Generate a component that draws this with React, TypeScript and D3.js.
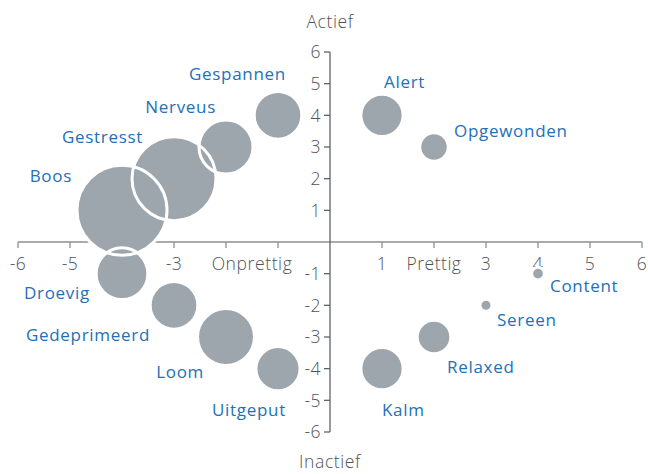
import React from 'react';
import * as d3 from 'd3';

// emotions on the valence (x) / arousal (y) plane
const moods = ['Boos', 'Gestresst', 'Nerveus', 'Gespannen', 'Alert', 'Opgewonden', 'Content', 'Sereen', 'Relaxed', 'Kalm', 'Uitgeput', 'Loom', 'Gedeprimeerd', 'Droevig'];
const valence = [-4, -3, -2, -1, 1, 2, 4, 3, 2, 1, -1, -2, -3, -4];
const arousal = [1, 2, 3, 4, 4, 3, -1, -2, -3, -4, -4, -3, -2, -1];
const weight = [100, 87, 36, 28, 22, 10, 2, 1.8, 14, 22, 24, 40, 28, 33];

const tickValues = [-6, -5, -4, -3, -2, -1, 1, 2, 3, 4, 5, 6];
const xTickLabels: Record<number, string> = { '-2': '', '-1': '', 2: 'Prettig' };
const xExtraLabel = { value: -1.5, text: 'Onprettig' };
const yTopLabel = 'Actief';
const yBottomLabel = 'Inactief';

// label placement relative to bubble centre: dx, dy, anchor
const labelPos: Record<string, [number, number, string]> = {
  Boos: [-50, -28, 'end'],
  Gestresst: [-31, -36, 'end'],
  Nerveus: [-10, -34, 'end'],
  Gespannen: [8, -35, 'end'],
  Alert: [2, -27, 'start'],
  Opgewonden: [20, -10, 'start'],
  Content: [12, 18, 'start'],
  Sereen: [11, 21, 'start'],
  Relaxed: [13, 36, 'start'],
  Kalm: [0, 47, 'start'],
  Uitgeput: [8, 47, 'end'],
  Loom: [-22, 41, 'end'],
  Gedeprimeerd: [-24, 36, 'end'],
  Droevig: [-32, 25, 'end'],
};

const W = 648, H = 474;
const font = '"Open Sans", sans-serif';
const tickColor = '#4f5459';
const bubbleFill = '#9ea6ad';
const labelColor = '#2370b8';
const tickSize = 17.5;

export default function App() {
  const x = d3.scaleLinear().domain([-6, 6]).range([18, 642]);
  const y = d3.scaleLinear().domain([-6, 6]).range([432, 52]);
  const r = d3.scaleSqrt().domain([0, 100]).range([0, 45]);
  const x0 = x(0), y0 = y(0);

  const pts = moods.map((m, i) => ({ name: m, cx: x(valence[i]), cy: y(arousal[i]), rad: r(weight[i]) }));

  return (
    <div style={{ position: 'absolute', left: 0, top: 0 }}>
      <svg width={W} height={H} style={{ display: 'block', fontFamily: font }}>
        {/* x axis */}
        <line x1={x(-6)} x2={x(6)} y1={y0} y2={y0} stroke="#8a9197" strokeWidth={1.3} />
        {tickValues.map((t) => (
          <g key={'xt' + t}>
            <line x1={x(t)} x2={x(t)} y1={y0} y2={y0 + 6} stroke="#8a9197" strokeWidth={1.3} />
            <text x={x(t)} y={y0 + 28} textAnchor="middle" fontSize={tickSize} fontWeight={300} fill={tickColor} letterSpacing={0.5}>
              {t in xTickLabels ? xTickLabels[t] : String(t)}
            </text>
          </g>
        ))}
        <text x={x(xExtraLabel.value)} y={y0 + 28} textAnchor="middle" fontSize={tickSize} fontWeight={300} fill={tickColor} letterSpacing={0.6}>
          {xExtraLabel.text}
        </text>

        {/* y axis */}
        <line x1={x0} x2={x0} y1={y(6)} y2={y(-6)} stroke="#5d646a" strokeWidth={1.3} />
        {tickValues.map((t) => (
          <g key={'yt' + t}>
            <line x1={x0 - 6} x2={x0} y1={y(t)} y2={y(t)} stroke="#5d646a" strokeWidth={1.3} />
            <text x={x0 - 9} y={y(t)} dy="0.36em" textAnchor="end" fontSize={tickSize} fontWeight={300} fill={tickColor} letterSpacing={0.5}>
              {t}
            </text>
          </g>
        ))}
        <text x={x0} y={28} textAnchor="middle" fontSize={tickSize} fontWeight={300} fill={tickColor} letterSpacing={0.6}>{yTopLabel}</text>
        <text x={x0} y={468} textAnchor="middle" fontSize={tickSize} fontWeight={300} fill={tickColor} letterSpacing={0.6}>{yBottomLabel}</text>

        {/* bubbles: fills first, then white outlines on top */}
        {pts.map((p) => (
          <circle key={'f' + p.name} cx={p.cx} cy={p.cy} r={p.rad} fill={bubbleFill} />
        ))}
        {pts.map((p) => (
          <circle key={'s' + p.name} cx={p.cx} cy={p.cy} r={p.rad} fill="none" stroke="#fff" strokeWidth={3} />
        ))}

        {/* labels */}
        {pts.map((p) => {
          const [dx, dy, anchor] = labelPos[p.name];
          return (
            <text key={'l' + p.name} x={p.cx + dx} y={p.cy + dy} textAnchor={anchor as any} fontSize={17} fill={labelColor} letterSpacing={0.7}>
              {p.name}
            </text>
          );
        })}
      </svg>
    </div>
  );
}
